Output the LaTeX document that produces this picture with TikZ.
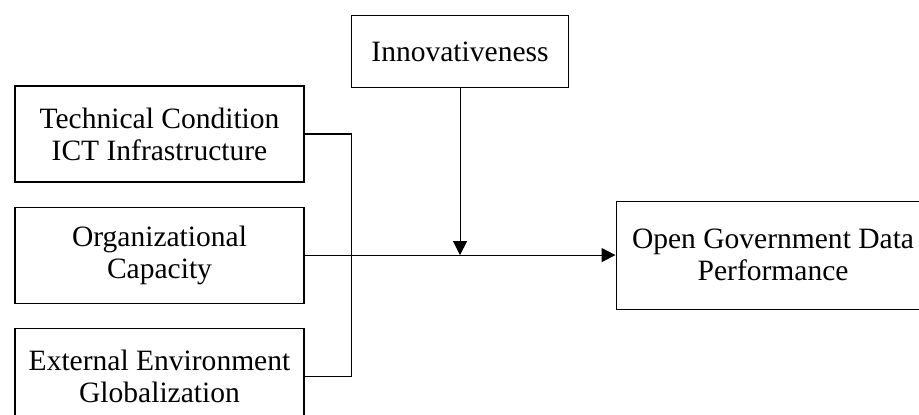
\documentclass[tikz,border=0pt]{standalone}
\usepackage{fontspec}
\setmainfont{Liberation Serif}
\usepackage{tikz}
\usetikzlibrary{calc,positioning,arrows.meta}
\tikzset{
    >={Triangle[length=0.28cm,width=0.28cm]},
    factor/.style={
        rectangle,
        draw=black, line width=0.6pt,
        minimum width=5.78cm,
        minimum height=1.92cm,
        align=center,
        font=\fontsize{16.8}{18.2}\selectfont
    },
    line/.style={draw, line width=0.6pt},
    arrowline/.style={draw, line width=0.6pt, ->}
}
\begin{document}
\begin{tikzpicture}[
            moderator/.style={
                factor,
                minimum width=4.34cm,
                minimum height=1.44cm
            },
            outcome/.style={
                factor,
                minimum width=6.28cm,
                minimum height=2.16cm
            },
            node distance=0.48cm and 6.22cm]
    \useasboundingbox (0,0) rectangle (18.38,-8.28);
    \clip (0,0) rectangle (18.38,-8.28);

    % independent factors
    \node[factor] (tech) at (3.19,-2.68) {Technical Condition\\ICT Infrastructure};
    \node[factor, below=of tech] (org) {Organizational\\Capacity};
    \node[factor, below=of org] (ext) {External Environment\\Globalization};

    % dependent factor
    \node[outcome, right=of org] (ogd) {Open Government Data\\Performance};

    % moderator
    \coordinate (mid) at ($(org.east)!0.5!(ogd.west)$);
    \node[moderator, above=3.34cm of mid] (innov) {Innovativeness};

    % connectors
    \coordinate (bus top) at ($(tech.east)+(0.94,0)$);
    \coordinate (bus bottom) at ($(ext.east)+(0.94,0)$);
    \draw[line] (tech.east) -- (bus top) -- (bus bottom) -- (ext.east);
    \draw[arrowline] (org.east) -- (ogd.west);
    \draw[arrowline] (innov.south) -- (mid);
\end{tikzpicture}
\end{document}
